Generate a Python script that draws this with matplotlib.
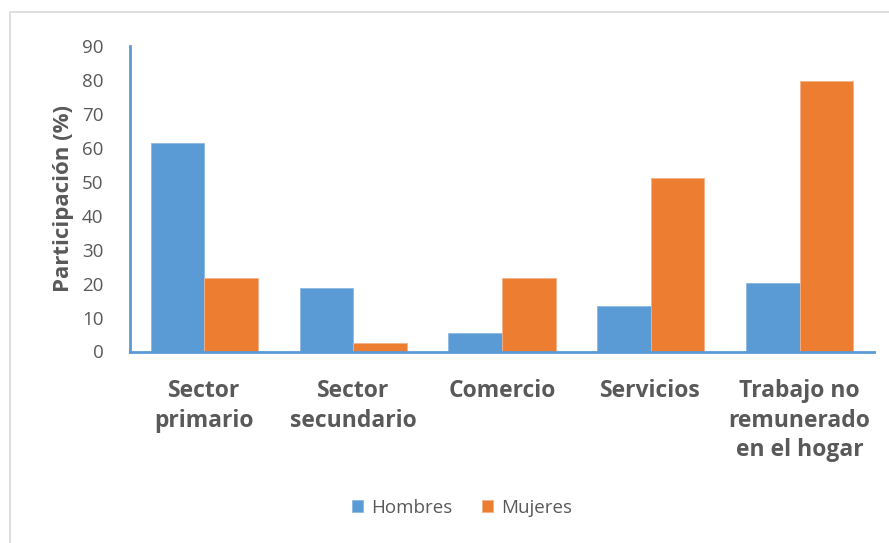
import matplotlib
matplotlib.use("Agg")
import matplotlib.pyplot as plt
import numpy as np
from matplotlib.patches import Rectangle

plt.rcParams["font.family"] = ["Open Sans", "DejaVu Sans"]

CATEGORIES = ["Sector\nprimario", "Sector\nsecundario", "Comercio", "Servicios",
              "Trabajo no\nremunerado\nen el hogar"]
HOMBRES = [61.3, 18.6, 5.4, 13.5, 20.1]
MUJERES = [21.7, 2.6, 21.6, 51.0, 79.7]
YTICKS = list(range(0, 100, 10))

BLUE = "#5B9BD5"
ORANGE = "#ED7D31"
TEXT = "#595959"

fig = plt.figure(figsize=(8.89, 5.43), dpi=100)
ax = fig.add_axes([130 / 889, 1 - 351.5 / 543, 744 / 889, 305.5 / 543])

# chart-area border (only left/top fall inside the image)
fig.patches.append(Rectangle((10 / 889, -0.1), 1.2, 1.1 - 12 / 543,
                             transform=fig.transFigure, fill=False,
                             edgecolor="#D9D9D9", linewidth=1.2))

x = np.arange(len(CATEGORIES))
w = 0.36
ax.bar(x - w / 2, HOMBRES, w, color=BLUE, edgecolor="#8DB8E2", linewidth=0.6,
       label="Hombres")
ax.bar(x + w / 2, MUJERES, w, color=ORANGE, edgecolor="#F3B08A", linewidth=0.6,
       label="Mujeres")

ax.set_xlim(-0.5, len(CATEGORIES) - 0.5)
ax.set_ylim(0, 90)
ax.set_yticks(YTICKS)
ax.tick_params(axis="y", length=0, pad=19, labelsize=13.5, labelcolor=TEXT)
ax.set_xticks(x)
ax.set_xticklabels(CATEGORIES, fontsize=16.5, fontweight="bold", color=TEXT,
                   linespacing=1.3, va="top")
ax.tick_params(axis="x", length=0, pad=20)

for side in ("top", "right"):
    ax.spines[side].set_visible(False)
for side in ("left", "bottom"):
    ax.spines[side].set_color(BLUE)
    ax.spines[side].set_linewidth(2)

ax.set_ylabel("Participación (%)", fontsize=16, fontweight="bold",
              color=TEXT, labelpad=6)

leg = ax.legend(loc="center", bbox_to_anchor=(462 / 889, 1 - 508 / 543),
                bbox_transform=fig.transFigure, ncol=2, frameon=False,
                fontsize=13.5, handlelength=0.6, handleheight=0.6,
                columnspacing=1.6, handletextpad=0.4)
for t in leg.get_texts():
    t.set_color(TEXT)

fig.savefig("out.png", dpi=100)
